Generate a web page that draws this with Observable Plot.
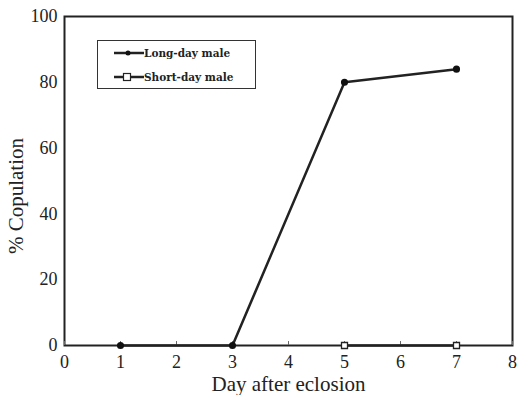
<!DOCTYPE html>
<html>
<head>
<meta charset="utf-8">
<script src="https://cdn.jsdelivr.net/npm/d3@7"></script>
<script src="https://cdn.jsdelivr.net/npm/@observablehq/plot@0.6"></script>
<style>
  html, body { margin: 0; padding: 0; background: #fff; }
  #wrap { position: relative; width: 524px; height: 395px; }
  #legend {
    position: absolute; left: 97px; top: 40px; width: 159px; height: 49px;
    border: 1.5px solid #333; background: #fff; box-sizing: border-box;
    font-family: "DejaVu Serif", serif; font-weight: bold; font-size: 10.5px; color: #222;
  }
  .row { position: absolute; left: 16px; display: flex; align-items: center; }
  .row svg { display: block; }
  .row span { margin-left: 0px; }
</style>
</head>
<body>
<div id="wrap"></div>
<script>
const days = [1, 3, 5, 7];
const longDay = [0, 0, 80, 84];
const shortDayDays = [5, 7];
const shortDay = [0, 0];
const xTicks = [0, 1, 2, 3, 4, 5, 6, 7, 8];
const yTicks = [0, 20, 40, 60, 80, 100];
const seriesNames = ["Long-day male", "Short-day male"];

const longData = days.map((d, i) => ({day: d, pct: longDay[i]}));
const shortData = shortDayDays.map((d, i) => ({day: d, pct: shortDay[i]}));

const chart = Plot.plot({
  width: 524,
  height: 395,
  marginLeft: 64,
  marginRight: 12,
  marginTop: 16,
  marginBottom: 50,
  style: {fontFamily: "Liberation Serif, serif", fontSize: "17px", color: "#222", background: "#fff"},
  x: {domain: [0, 8]},
  y: {domain: [0, 100]},
  marks: [
    Plot.frame({stroke: "#222", strokeWidth: 2}),
    Plot.ruleX(xTicks, {y1: 0, y2: 1.2, stroke: "#666", strokeWidth: 1}),
    Plot.axisX(xTicks, {tickSize: 0, tickPadding: 10, fontSize: 18, label: null}),
    Plot.axisY(yTicks, {tickSize: 0, tickPadding: 7, fontSize: 18, label: null}),
    Plot.text(["Day after eclosion"], {frameAnchor: "bottom", dy: 45, fontSize: 21, fill: "#222"}),
    Plot.text(["% Copulation"], {frameAnchor: "left", textAnchor: "middle", lineAnchor: "middle", dx: -48, dy: 15, rotate: -90, fontSize: 21, fill: "#222"}),
    Plot.line(shortData, {x: "day", y: "pct", stroke: "#222", strokeWidth: 2.5}),
    Plot.line(longData, {x: "day", y: "pct", stroke: "#222", strokeWidth: 2.5}),
    Plot.dot(longData, {x: "day", y: "pct", r: 2.8, fill: "#111", stroke: "#111"}),
    Plot.dot(shortData, {x: "day", y: "pct", symbol: "square", r: 3.4, fill: "#fff", stroke: "#222", strokeWidth: 1.3})
  ]
});

const wrap = document.getElementById("wrap");
wrap.appendChild(chart);

const legend = document.createElement("div");
legend.id = "legend";
const markers = [
  '<svg width="30" height="10"><line x1="0" y1="5" x2="30" y2="5" stroke="#222" stroke-width="2.5"/><circle cx="14" cy="5" r="2.5" fill="#111"/></svg>',
  '<svg width="30" height="10"><line x1="0" y1="5" x2="30" y2="5" stroke="#222" stroke-width="2.5"/><rect x="9.5" y="1.5" width="7" height="7" fill="#fff" stroke="#222" stroke-width="1.2"/></svg>'
];
seriesNames.forEach((name, i) => {
  const row = document.createElement("div");
  row.className = "row";
  row.style.top = (i === 0 ? 6 : 30) + "px";
  row.innerHTML = markers[i] + "<span>" + name + "</span>";
  legend.appendChild(row);
});
wrap.appendChild(legend);
</script>
</body>
</html>
